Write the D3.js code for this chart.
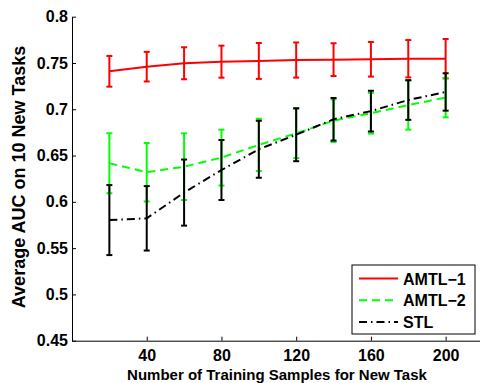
<!DOCTYPE html>
<html>
<head>
<meta charset="utf-8">
<script src="https://cdn.jsdelivr.net/npm/d3@7"></script>
<style>
  body { margin: 0; background: #fff; }
  svg text { font-family: "Liberation Sans", Arial, sans-serif; font-weight: bold; }
</style>
</head>
<body>
<figure id="chart" style="margin:0"></figure>
<script>
// training sample counts
const samples = [20, 40, 60, 80, 100, 120, 140, 160, 180, 200]

// mean AUC and error (half bar length) per series
const amtl1Mean = [0.741, 0.746, 0.7497, 0.7514, 0.7522, 0.7532, 0.7536, 0.754, 0.7546, 0.7546]
const amtl1Err  = [0.0166, 0.016, 0.0173, 0.0173, 0.0194, 0.019, 0.0177, 0.0187, 0.0202, 0.0213]
const amtl2Mean = [0.6417, 0.632, 0.638, 0.6478, 0.6615, 0.674, 0.6877, 0.6957, 0.7046, 0.7126]
const amtl2Err  = [0.0324, 0.0316, 0.036, 0.0302, 0.0283, 0.0267, 0.023, 0.022, 0.0266, 0.0213]
const stlMean   = [0.5803, 0.5822, 0.61, 0.6344, 0.6568, 0.6725, 0.6892, 0.698, 0.71, 0.7187]
const stlErr    = [0.0378, 0.0348, 0.0357, 0.0324, 0.0308, 0.0286, 0.023, 0.022, 0.0214, 0.0202]

const seriesNames = ["AMTL\u22121", "AMTL\u22122", "STL"]
const xTicks = [40, 80, 120, 160, 200]
const yTicks = [0.45, 0.5, 0.55, 0.6, 0.65, 0.7, 0.75, 0.8]

const width = 480
const height = 383

const series = [
  { name: seriesNames[0], mean: amtl1Mean, err: amtl1Err, color: "#ff0000", dash: null },
  { name: seriesNames[1], mean: amtl2Mean, err: amtl2Err, color: "#00ff00", dash: "8,5" },
  { name: seriesNames[2], mean: stlMean, err: stlErr, color: "#000000", dash: "8,4,1.5,4" }
]

const svg = d3.select("figure#chart")
  .append("svg")
  .attr("width", width)
  .attr("height", height)

const x = d3.scaleLinear()
  .domain([0, 220])
  .range([72, 483])

const y = d3.scaleLinear()
  .domain([0.45, 0.8])
  .range([340.7, 16.7])

/* axes - MATLAB style, ticks pointing inwards */
const xAxis = svg.append("g")
  .attr("transform", "translate(0," + y(0.45) + ")")
  .call(d3.axisBottom(x).tickValues(xTicks).tickSize(-4).tickPadding(9).tickSizeOuter(0))
xAxis.selectAll("text").style("font-size", "16px").attr("fill", "#000")

const yAxis = svg.append("g")
  .attr("transform", "translate(" + x(0) + ",0)")
  .call(d3.axisLeft(y).tickValues(yTicks).tickFormat(d3.format("")).tickSize(-4).tickPadding(4).tickSizeOuter(0))
yAxis.selectAll("text").style("font-size", "16px").attr("fill", "#000")

svg.selectAll(".domain, .tick line").attr("stroke", "#000")

svg.append("text")
  .attr("x", 277)
  .attr("y", 380)
  .attr("text-anchor", "middle")
  .style("font-size", "15px")
  .text("Number of Training Samples for New Task")

svg.append("text")
  .attr("transform", "translate(25,177) rotate(-90)")
  .attr("text-anchor", "middle")
  .style("font-size", "18px")
  .text("Average AUC on 10 New Tasks")

/* error bars + lines */
series.forEach(s => {
  const pts = samples.map((v, i) => ({ n: v, m: s.mean[i], e: s.err[i] }))
  const g = svg.append("g")

  g.selectAll(".bar").data(pts).enter().append("line")
    .attr("x1", d => x(d.n)).attr("x2", d => x(d.n))
    .attr("y1", d => y(d.m - d.e)).attr("y2", d => y(d.m + d.e))
    .attr("stroke", s.color).attr("stroke-width", 2)

  ;[-1, 1].forEach(sign => {
    g.selectAll(".cap" + sign).data(pts).enter().append("line")
      .attr("x1", d => x(d.n) - 3).attr("x2", d => x(d.n) + 3)
      .attr("y1", d => y(d.m + sign * d.e)).attr("y2", d => y(d.m + sign * d.e))
      .attr("stroke", s.color).attr("stroke-width", 2)
  })

  g.append("path")
    .datum(pts)
    .attr("fill", "none")
    .attr("stroke", s.color)
    .attr("stroke-width", 2)
    .attr("stroke-dasharray", s.dash)
    .attr("d", d3.line().x(d => x(d.n)).y(d => y(d.m)))
})

/* legend */
const legend = svg.append("g").attr("transform", "translate(352,265)")
legend.append("rect")
  .attr("width", 123).attr("height", 69)
  .attr("fill", "#fff").attr("stroke", "#000").attr("stroke-width", 1)

series.forEach((s, i) => {
  const ly = 13.5 + i * 21.7
  legend.append("line")
    .attr("x1", 7).attr("x2", 46)
    .attr("y1", ly).attr("y2", ly)
    .attr("stroke", s.color).attr("stroke-width", 2)
    .attr("stroke-dasharray", s.dash)
  legend.append("text")
    .attr("x", 51).attr("y", ly + 6)
    .style("font-size", "16px")
    .text(s.name)
})
</script>
</body>
</html>
